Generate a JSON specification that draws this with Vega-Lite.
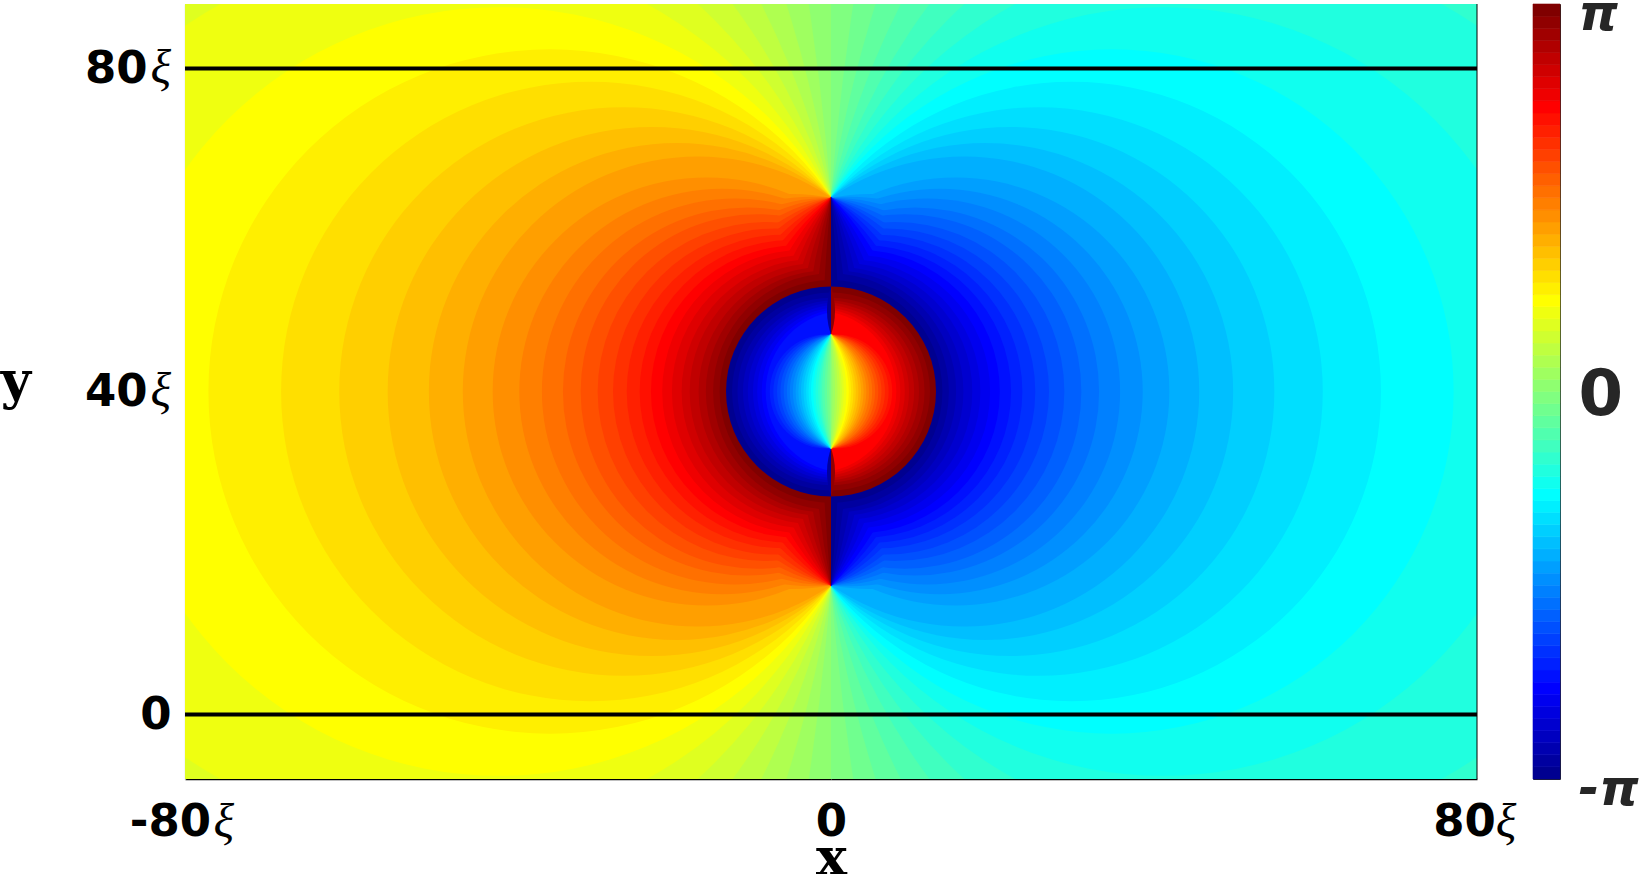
{"$schema":"https://vega.github.io/schema/vega-lite/v6.json","padding":{"left":0,"top":-12,"right":0,"bottom":0},"background":"white","config":{"view":{"stroke":null}},
"datasets":{
"left":[{"x":-40,"y":40,"r":200,"p":0.0982},
{"x":-315.7,"y":40,"r":316.6,"p":0.1963},{"x":-156.9,"y":40,"r":158.8,"p":0.2945},{"x":-103.6,"y":40,"r":106.4,"p":0.3927},{"x":-76.7,"y":40,"r":80.4,"p":0.4909},{"x":-60.3,"y":40,"r":64.9,"p":0.589},{"x":-49.2,"y":40,"r":54.7,"p":0.6872},{"x":-41.1,"y":40,"r":47.6,"p":0.7854},{"x":-34.8,"y":40,"r":42.3,"p":0.8836},{"x":-29.8,"y":40,"r":38.3,"p":0.9817},{"x":-25.7,"y":40,"r":35.2,"p":1.0799},{"x":-22.2,"y":40,"r":32.7,"p":1.1781},{"x":-19.1,"y":40,"r":30.7,"p":1.2763},{"x":-16.5,"y":40,"r":29.1,"p":1.3744},
{"x":-4.77,"y":40,"r":24.47,"p":1.4726},{"x":-15.4,"y":40,"r":26.5,"p":1.4726},{"x":-2.36,"y":40,"r":24.12,"p":1.5708},{"x":-13.5,"y":40,"r":25.1,"p":1.5708},{"x":0,"y":40,"r":24,"p":1.669},{"x":-11.9,"y":40,"r":23.9,"p":1.669},{"x":2.36,"y":40,"r":24.12,"p":1.7671},{"x":-10.4,"y":40,"r":22.8,"p":1.7671},{"x":4.77,"y":40,"r":24.47,"p":1.8653},{"x":-9.1,"y":40,"r":21.9,"p":1.8653},{"x":7.28,"y":40,"r":25.08,"p":1.9635},{"x":-7.9,"y":40,"r":21,"p":1.9635},{"x":9.94,"y":40,"r":25.98,"p":2.0617},{"x":-6.8,"y":40,"r":20.2,"p":2.0617},{"x":12.83,"y":40,"r":27.21,"p":2.1598},{"x":-5.9,"y":40,"r":19.4,"p":2.1598},{"x":16.04,"y":40,"r":28.86,"p":2.258},{"x":-4.95,"y":40,"r":18.75,"p":2.258},{"x":19.7,"y":40,"r":31.05,"p":2.3562},{"x":-4.2,"y":40,"r":18.1,"p":2.3562},{"x":24,"y":40,"r":33.94,"p":2.4544},{"x":-3.4,"y":40,"r":17.5,"p":2.4544},{"x":29.24,"y":40,"r":37.83,"p":2.5525},{"x":-2.8,"y":40,"r":16.9,"p":2.5525},{"x":35.92,"y":40,"r":43.2,"p":2.6507},{"x":-2.1,"y":40,"r":16.4,"p":2.6507},{"x":44.9,"y":40,"r":50.91,"p":2.7489},{"x":-1.6,"y":40,"r":15.9,"p":2.7489},{"x":57.9,"y":40,"r":62.68,"p":2.8471},{"x":-1,"y":40,"r":15.4,"p":2.8471},{"x":79.1,"y":40,"r":82.66,"p":2.9452},{"x":-0.5,"y":40,"r":15,"p":2.9452},{"x":120.6,"y":40,"r":122.96,"p":3.0434},{"x":0,"y":40,"r":14.6,"p":3.0434},{"x":243.7,"y":40,"r":244.88,"p":3.1416},{"x":0,"y":40,"r":13.8,"p":3.1416},
{"x":0,"y":40,"r":13,"p":-3.0434},
{"x":0,"y":40,"r":12.25,"p":-2.9452},{"x":0,"y":40,"r":11.58,"p":-2.8471},{"x":0.38,"y":40,"r":11.28,"p":-2.7489},{"x":0.72,"y":40,"r":11.02,"p":-2.6507},{"x":1.08,"y":40,"r":10.74,"p":-2.5525},{"x":1.34,"y":40,"r":10.48,"p":-2.4544},{"x":1.7,"y":40,"r":10.28,"p":-2.3562},{"x":1.95,"y":40,"r":10.04,"p":-2.258},{"x":-0.52,"y":40,"r":7.06,"p":-2.1598},{"x":-0.09,"y":40,"r":7.05,"p":-2.0617},{"x":0.37,"y":40,"r":7.05,"p":-1.9635},{"x":0.83,"y":40,"r":7.09,"p":-1.8653},{"x":1.31,"y":40,"r":7.17,"p":-1.7671},{"x":1.82,"y":40,"r":7.28,"p":-1.669},{"x":2.32,"y":40,"r":7.42,"p":-1.5708},{"x":2.89,"y":40,"r":7.61,"p":-1.4726},{"x":3.47,"y":40,"r":7.85,"p":-1.3744},{"x":4.13,"y":40,"r":8.17,"p":-1.2763},{"x":4.82,"y":40,"r":8.54,"p":-1.1781},{"x":5.62,"y":40,"r":9.02,"p":-1.0799},{"x":6.51,"y":40,"r":9.59,"p":-0.9817},{"x":7.53,"y":40,"r":10.31,"p":-0.8836},{"x":8.76,"y":40,"r":11.24,"p":-0.7854},{"x":10.22,"y":40,"r":12.42,"p":-0.6872},{"x":12.02,"y":40,"r":13.94,"p":-0.589},{"x":14.4,"y":40,"r":16,"p":-0.4909},{"x":17.7,"y":40,"r":19.05,"p":-0.3927},{"x":22.4,"y":40,"r":23.5,"p":-0.2945},{"x":30.6,"y":40,"r":31.4,"p":-0.1963},{"x":46.1,"y":40,"r":46.6,"p":-0.0982},{"x":92.8,"y":40,"r":93,"p":0},
{"x":8.5,"y":50,"r":9,"p":-2.9452},{"x":8.5,"y":30,"r":9,"p":-2.9452}],
"right":[{"x":40,"y":40,"r":200,"p":0},
{"x":315.7,"y":40,"r":316.6,"p":-0.0982},{"x":156.9,"y":40,"r":158.8,"p":-0.1963},{"x":103.6,"y":40,"r":106.4,"p":-0.2945},{"x":76.7,"y":40,"r":80.4,"p":-0.3927},{"x":60.3,"y":40,"r":64.9,"p":-0.4909},{"x":49.2,"y":40,"r":54.7,"p":-0.589},{"x":41.1,"y":40,"r":47.6,"p":-0.6872},{"x":34.8,"y":40,"r":42.3,"p":-0.7854},{"x":29.8,"y":40,"r":38.3,"p":-0.8836},{"x":25.7,"y":40,"r":35.2,"p":-0.9817},{"x":22.2,"y":40,"r":32.7,"p":-1.0799},{"x":19.1,"y":40,"r":30.7,"p":-1.1781},{"x":16.5,"y":40,"r":29.1,"p":-1.2763},
{"x":4.77,"y":40,"r":24.47,"p":-1.3744},{"x":15.4,"y":40,"r":26.5,"p":-1.3744},{"x":2.36,"y":40,"r":24.12,"p":-1.4726},{"x":13.5,"y":40,"r":25.1,"p":-1.4726},{"x":0,"y":40,"r":24,"p":-1.5708},{"x":11.9,"y":40,"r":23.9,"p":-1.5708},{"x":-2.36,"y":40,"r":24.12,"p":-1.669},{"x":10.4,"y":40,"r":22.8,"p":-1.669},{"x":-4.77,"y":40,"r":24.47,"p":-1.7671},{"x":9.1,"y":40,"r":21.9,"p":-1.7671},{"x":-7.28,"y":40,"r":25.08,"p":-1.8653},{"x":7.9,"y":40,"r":21,"p":-1.8653},{"x":-9.94,"y":40,"r":25.98,"p":-1.9635},{"x":6.8,"y":40,"r":20.2,"p":-1.9635},{"x":-12.83,"y":40,"r":27.21,"p":-2.0617},{"x":5.9,"y":40,"r":19.4,"p":-2.0617},{"x":-16.04,"y":40,"r":28.86,"p":-2.1598},{"x":4.95,"y":40,"r":18.75,"p":-2.1598},{"x":-19.7,"y":40,"r":31.05,"p":-2.258},{"x":4.2,"y":40,"r":18.1,"p":-2.258},{"x":-24,"y":40,"r":33.94,"p":-2.3562},{"x":3.4,"y":40,"r":17.5,"p":-2.3562},{"x":-29.24,"y":40,"r":37.83,"p":-2.4544},{"x":2.8,"y":40,"r":16.9,"p":-2.4544},{"x":-35.92,"y":40,"r":43.2,"p":-2.5525},{"x":2.1,"y":40,"r":16.4,"p":-2.5525},{"x":-44.9,"y":40,"r":50.91,"p":-2.6507},{"x":1.6,"y":40,"r":15.9,"p":-2.6507},{"x":-57.9,"y":40,"r":62.68,"p":-2.7489},{"x":1,"y":40,"r":15.4,"p":-2.7489},{"x":-79.1,"y":40,"r":82.66,"p":-2.8471},{"x":0.5,"y":40,"r":15,"p":-2.8471},{"x":-120.6,"y":40,"r":122.96,"p":-2.9452},{"x":0,"y":40,"r":14.6,"p":-2.9452},{"x":-243.7,"y":40,"r":244.88,"p":-3.0434},{"x":0,"y":40,"r":13.8,"p":-3.0434},
{"x":0,"y":40,"r":13,"p":3.1416},
{"x":0,"y":40,"r":12.25,"p":3.0434},{"x":0,"y":40,"r":11.58,"p":2.9452},{"x":-0.38,"y":40,"r":11.28,"p":2.8471},{"x":-0.72,"y":40,"r":11.02,"p":2.7489},{"x":-1.08,"y":40,"r":10.74,"p":2.6507},{"x":-1.34,"y":40,"r":10.48,"p":2.5525},{"x":-1.7,"y":40,"r":10.28,"p":2.4544},{"x":-1.95,"y":40,"r":10.04,"p":2.3562},{"x":0.52,"y":40,"r":7.06,"p":2.258},{"x":0.09,"y":40,"r":7.05,"p":2.1598},{"x":-0.37,"y":40,"r":7.05,"p":2.0617},{"x":-0.83,"y":40,"r":7.09,"p":1.9635},{"x":-1.31,"y":40,"r":7.17,"p":1.8653},{"x":-1.82,"y":40,"r":7.28,"p":1.7671},{"x":-2.32,"y":40,"r":7.42,"p":1.669},{"x":-2.89,"y":40,"r":7.61,"p":1.5708},{"x":-3.47,"y":40,"r":7.85,"p":1.4726},{"x":-4.13,"y":40,"r":8.17,"p":1.3744},{"x":-4.82,"y":40,"r":8.54,"p":1.2763},{"x":-5.62,"y":40,"r":9.02,"p":1.1781},{"x":-6.51,"y":40,"r":9.59,"p":1.0799},{"x":-7.53,"y":40,"r":10.31,"p":0.9817},{"x":-8.76,"y":40,"r":11.24,"p":0.8836},{"x":-10.22,"y":40,"r":12.42,"p":0.7854},{"x":-12.02,"y":40,"r":13.94,"p":0.6872},{"x":-14.4,"y":40,"r":16,"p":0.589},{"x":-17.7,"y":40,"r":19.05,"p":0.4909},{"x":-22.4,"y":40,"r":23.5,"p":0.3927},{"x":-30.6,"y":40,"r":31.4,"p":0.2945},{"x":-46.1,"y":40,"r":46.6,"p":0.1963},{"x":-92.8,"y":40,"r":93,"p":0.0982},
{"x":-8.5,"y":50,"r":9,"p":3.0434},{"x":-8.5,"y":30,"r":9,"p":3.0434}],
"bar":[{"lo":-3.1416,"hi":-3.0434},{"lo":-3.0434,"hi":-2.9452},{"lo":-2.9452,"hi":-2.8471},{"lo":-2.8471,"hi":-2.7489},{"lo":-2.7489,"hi":-2.6507},{"lo":-2.6507,"hi":-2.5525},{"lo":-2.5525,"hi":-2.4544},{"lo":-2.4544,"hi":-2.3562},{"lo":-2.3562,"hi":-2.258},{"lo":-2.258,"hi":-2.1598},{"lo":-2.1598,"hi":-2.0617},{"lo":-2.0617,"hi":-1.9635},{"lo":-1.9635,"hi":-1.8653},{"lo":-1.8653,"hi":-1.7671},{"lo":-1.7671,"hi":-1.669},{"lo":-1.669,"hi":-1.5708},{"lo":-1.5708,"hi":-1.4726},{"lo":-1.4726,"hi":-1.3744},{"lo":-1.3744,"hi":-1.2763},{"lo":-1.2763,"hi":-1.1781},{"lo":-1.1781,"hi":-1.0799},{"lo":-1.0799,"hi":-0.9817},{"lo":-0.9817,"hi":-0.8836},{"lo":-0.8836,"hi":-0.7854},{"lo":-0.7854,"hi":-0.6872},{"lo":-0.6872,"hi":-0.589},{"lo":-0.589,"hi":-0.4909},{"lo":-0.4909,"hi":-0.3927},{"lo":-0.3927,"hi":-0.2945},{"lo":-0.2945,"hi":-0.1963},{"lo":-0.1963,"hi":-0.0982},{"lo":-0.0982,"hi":0},{"lo":0,"hi":0.0982},{"lo":0.0982,"hi":0.1963},{"lo":0.1963,"hi":0.2945},{"lo":0.2945,"hi":0.3927},{"lo":0.3927,"hi":0.4909},{"lo":0.4909,"hi":0.589},{"lo":0.589,"hi":0.6872},{"lo":0.6872,"hi":0.7854},{"lo":0.7854,"hi":0.8836},{"lo":0.8836,"hi":0.9817},{"lo":0.9817,"hi":1.0799},{"lo":1.0799,"hi":1.1781},{"lo":1.1781,"hi":1.2763},{"lo":1.2763,"hi":1.3744},{"lo":1.3744,"hi":1.4726},{"lo":1.4726,"hi":1.5708},{"lo":1.5708,"hi":1.669},{"lo":1.669,"hi":1.7671},{"lo":1.7671,"hi":1.8653},{"lo":1.8653,"hi":1.9635},{"lo":1.9635,"hi":2.0617},{"lo":2.0617,"hi":2.1598},{"lo":2.1598,"hi":2.258},{"lo":2.258,"hi":2.3562},{"lo":2.3562,"hi":2.4544},{"lo":2.4544,"hi":2.5525},{"lo":2.5525,"hi":2.6507},{"lo":2.6507,"hi":2.7489},{"lo":2.7489,"hi":2.8471},{"lo":2.8471,"hi":2.9452},{"lo":2.9452,"hi":3.0434},{"lo":3.0434,"hi":3.1416}]
},
"hconcat":[
{"width":646,"height":775,
"encoding":{"x":{"field":"x","type":"quantitative","scale":{"domain":[-80,0],"nice":false},"axis":{"values":[-80,0],"title":"x","titleFont":"DejaVu Serif","titleFontWeight":"bold","titleFontSize":52,"titleColor":"#000","titleAnchor":"end","titleAlign":"center","titlePadding":-11,"grid":false,"ticks":false,"domainColor":"#000","domainWidth":1.5,"labelExpr":"'' + datum.value","labelFont":"DejaVu Sans","labelFontWeight":"bold","labelFontSize":45,"labelColor":"#000","labelPadding":20,"labelFlush":false,"labelOffset":{"condition":{"test":"datum.value == 0","value":0},"value":-15}}},
"y":{"field":"y","type":"quantitative","scale":{"domain":[-8,88],"nice":false},"axis":{"values":[0,40,80],"title":"y","titleFont":"DejaVu Serif","titleFontWeight":"bold","titleFontSize":52,"titleColor":"#000","titleAngle":0,"titleAlign":"center","titleY":404,"titlePadding":69,"grid":false,"ticks":false,"domainColor":"#d8d8e0","domainWidth":1.5,"labelFont":"DejaVu Sans","labelFontWeight":"bold","labelFontSize":45,"labelColor":"#000","labelPadding":{"condition":{"test":"datum.value == 0","value":14},"value":38},"format":"d"}}},
"layer":[
{"data":{"name":"left"},"mark":{"type":"point","shape":"circle","filled":true,"opacity":1,"clip":true,"strokeWidth":0},"encoding":{"size":{"field":"r","type":"quantitative","legend":null,"scale":{"type":"pow","exponent":2,"domain":[0,400],"range":[0,41731600]}},"color":{"field":"p","type":"quantitative","legend":null,"scale":{"domain":[-3.1416,-2.3562,-0.7854,0.7854,2.3562,3.1416],"range":["#000080","#0000ff","#00ffff","#ffff00","#ff0000","#800000"],"interpolate":"rgb"}}}},
{"data":{"values":[{"x":-80,"x2":0,"y":80},{"x":-80,"x2":0,"y":0}]},"mark":{"type":"rule","color":"#000","strokeWidth":4},"encoding":{"x2":{"field":"x2"}}},
{"data":{"values":[{"x":-83,"y":80,"t":"ξ"},{"x":-83,"y":40,"t":"ξ"},{"x":-75.2,"y":-13.4,"t":"ξ"}]},"mark":{"type":"text","font":"Liberation Serif","fontStyle":"italic","fontSize":48,"color":"#000"},"encoding":{"text":{"field":"t"}}}
]},
{"width":646,"height":775,
"encoding":{"x":{"field":"x","type":"quantitative","scale":{"domain":[0,80],"nice":false},"axis":{"values":[80],"title":null,"grid":false,"ticks":false,"domainColor":"#000","domainWidth":1.5,"labelFont":"DejaVu Sans","labelFontWeight":"bold","labelFontSize":45,"labelColor":"#000","labelPadding":20,"labelFlush":false,"labelOffset":-13,"format":"d"}},
"y":{"field":"y","type":"quantitative","scale":{"domain":[-8,88],"nice":false},"axis":null}},
"layer":[
{"data":{"name":"right"},"mark":{"type":"point","shape":"circle","filled":true,"opacity":1,"clip":true,"strokeWidth":0},"encoding":{"size":{"field":"r","type":"quantitative","legend":null,"scale":{"type":"pow","exponent":2,"domain":[0,400],"range":[0,41731600]}},"color":{"field":"p","type":"quantitative","legend":null,"scale":{"domain":[-3.1416,-2.3562,-0.7854,0.7854,2.3562,3.1416],"range":["#000080","#0000ff","#00ffff","#ffff00","#ff0000","#800000"],"interpolate":"rgb"}}}},
{"data":{"values":[{"x":0,"x2":80,"y":80},{"x":0,"x2":80,"y":0}]},"mark":{"type":"rule","color":"#000","strokeWidth":4},"encoding":{"x2":{"field":"x2"}}},
{"data":{"values":[{"x":80,"y":-8,"y2":88}]},"mark":{"type":"rule","color":"#000","strokeWidth":1},"encoding":{"y2":{"field":"y2"}}},
{"data":{"values":[{"x":83.6,"y":-13.4,"t":"ξ"}]},"mark":{"type":"text","font":"Liberation Serif","fontStyle":"italic","fontSize":48,"color":"#000"},"encoding":{"text":{"field":"t"}}}
]},
{"width":56,"height":775,"data":{"values":[]},"mark":"rect","encoding":{}},
{"width":27,"height":775,"view":{"stroke":"#262626","strokeWidth":1},"data":{"name":"bar"},"mark":{"type":"rect","strokeWidth":0.6},
"encoding":{"y":{"field":"lo","type":"quantitative","scale":{"domain":[-3.1416,3.1416],"nice":false},"axis":{"orient":"right","values":[-3.1416,0,3.1416],"title":null,"grid":false,"ticks":false,"domain":false,"labelExpr":"datum.value > 1 ? 'π' : (datum.value < -1 ? '-π' : '0')","labelFont":"DejaVu Sans","labelFontWeight":"bold","labelFontSize":{"condition":{"test":"datum.value == 0","value":64},"value":50},"labelFontStyle":{"condition":{"test":"datum.value == 0","value":"normal"},"value":"italic"},"labelColor":"#262626","labelPadding":18,"labelFlush":false,"labelOffset":{"condition":{"test":"datum.value == 0","value":4},"value":10}}},
"y2":{"field":"hi"},
"fill":{"field":"hi","type":"quantitative","legend":null,"scale":{"domain":[-3.1416,-2.3562,-0.7854,0.7854,2.3562,3.1416],"range":["#000080","#0000ff","#00ffff","#ffff00","#ff0000","#800000"],"interpolate":"rgb"}},
"stroke":{"field":"hi","type":"quantitative","legend":null,"scale":{"domain":[-3.1416,-2.3562,-0.7854,0.7854,2.3562,3.1416],"range":["#000080","#0000ff","#00ffff","#ffff00","#ff0000","#800000"],"interpolate":"rgb"}}}}
],"spacing":0,"bounds":"flush"}
